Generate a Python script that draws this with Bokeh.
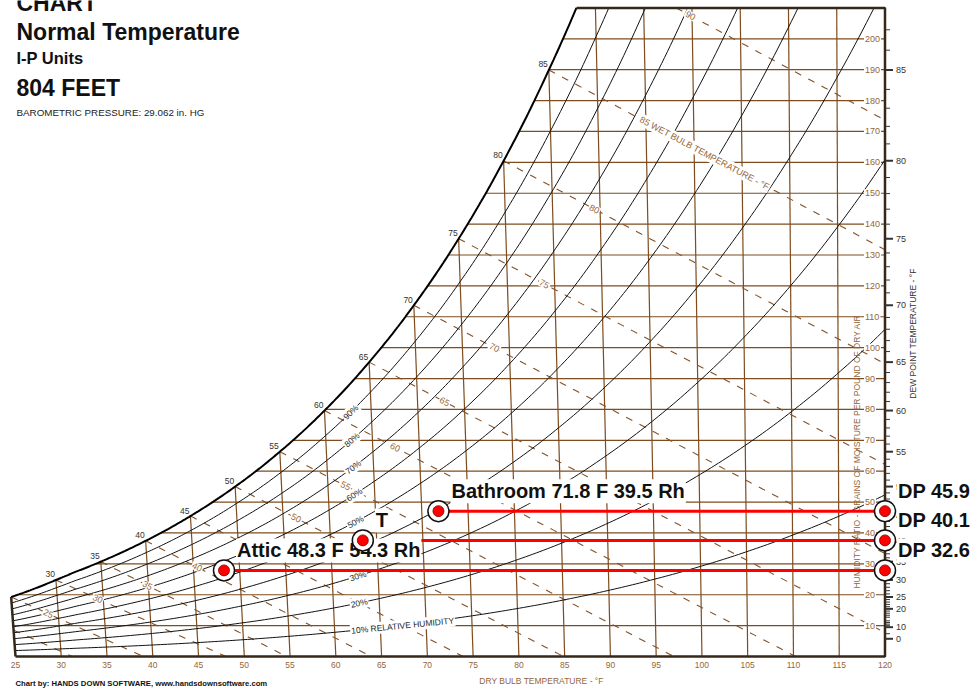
import numpy as np
from bokeh.plotting import figure
from bokeh.models import Range1d
from bokeh.core.properties import value
from bokeh.embed import file_html
from bokeh.resources import INLINE

# ---------------- data ----------------
BARO_INHG = 29.062
TITLE_LINES = ["CHART", "Normal Temperature", "I-P Units", "804 FEET", "BAROMETRIC PRESSURE: 29.062 in. HG"]
FOOTER = "Chart by: HANDS DOWN SOFTWARE, www.handsdownsoftware.com"
X_TITLE = "DRY BULB TEMPERATURE - \u00b0F"
W_TITLE = "HUMIDITY RATIO - GRAINS OF MOISTURE PER POUND OF DRY AIR"
DP_TITLE = "DEW POINT TEMPERATURE - \u00b0F"

# saturation pressure table (psia) vs temperature (F)
PS_T = [0, 5, 10, 15, 20, 25, 30, 32, 35, 40, 45, 50, 55, 60, 65, 70, 75, 80, 85, 90, 95, 100, 105, 110, 115, 120]
PS_PSIA = [0.01877, 0.02418, 0.03106, 0.03966, 0.05040, 0.06290, 0.08080, 0.08865, 0.09998, 0.12173, 0.14756,
           0.17813, 0.21413, 0.25638, 0.30578, 0.36334, 0.43016, 0.50745, 0.59659, 0.69904, 0.81643, 0.95052,
           1.1032, 1.2767, 1.4731, 1.6951]

DB_TICKS = list(range(25, 121, 5))
DB_LINES = list(range(30, 116, 5))
SAT_LABELS = list(range(30, 86, 5))
W_LINES = list(range(10, 201, 10))
WB_LINES = list(range(20, 91, 5))
WB_LABELS = list(range(25, 91, 5))
RH_LEVELS = [10, 20, 30, 40, 50, 60, 70, 80, 90]
DP_MAJOR = [0, 10, 20, 25, 30, 35, 40, 45, 50, 55, 60, 65, 70, 75, 80, 85]
DP_MINOR = [5] + [d for d in range(11, 88) if d % 5 != 0]

POINT_DB = [48.3, 63.5, 71.8]
POINT_DP = [32.6, 40.1, 45.9]
POINT_TEXT = ["Attic 48.3 F 54.3 Rh", "T", "Bathroom 71.8 F 39.5 Rh"]

# ---------------- layout / style ----------------
FONT = "Liberation Sans"
BROWN_LINE = "#7e4c1e"
BROWN_TXT = "#94663a"
DARK = "#333333"
SX = 9.1526      # px per deg F
SY = 3.0885      # px per grain
X0PX, Y0PX = 15.0, 656.0
W_TOP = 210.0
A_SLANT = 0.00026
FIG_W, FIG_H = 972, 690

def dx(px):
    return 25 + (px - X0PX) / SX

def dy(py):
    return (Y0PX - py) / SY

# ---------------- psychrometrics ----------------
P_PSIA = BARO_INHG * 0.491154
LN_PS = np.log(PS_PSIA)

def ps(t):
    return np.exp(np.interp(t, PS_T, LN_PS))

def w_gr(t, rh=1.0):
    pw = rh * ps(t)
    return 7000 * 0.622 * pw / (P_PSIA - pw)

def X(t, w):
    return t - A_SLANT * (120 - t) * w

def wb_w(t, twb):
    ws = w_gr(twb) / 7000.0
    if twb >= 32:
        r = ((1093 - 0.556 * twb) * ws - 0.240 * (t - twb)) / (1093 + 0.444 * t - twb)
    else:
        r = ((1220 - 0.04 * twb) * ws - 0.240 * (t - twb)) / (1220 + 0.444 * t - 0.48 * twb)
    return 7000 * r

TF = np.linspace(-5, 120, 25001)

def t_at_w_rh(w, rh=1.0):
    return float(np.interp(w, w_gr(TF, rh), TF))

p = figure(width=FIG_W, height=FIG_H, x_range=Range1d(dx(0), dx(FIG_W)), y_range=Range1d(dy(FIG_H), dy(0)),
           output_backend="svg", toolbar_location=None, x_axis_location=None, y_axis_location=None,
           min_border=0, outline_line_color=None, background_fill_color="white", border_fill_color="white")
p.grid.visible = False


def txt(x, y, s, size, color, align="left", baseline="middle", angle=0.0, bold=False, font=FONT,
        xo=0, yo=0, bg=None, pad=0):
    kw = {}
    if bg is not None:
        kw.update(background_fill_color=bg, padding=pad)
    p.text(x=list(x), y=list(y), text=list(s), angle=angle,
           text_font=value(font), text_font_size=size, text_color=color, text_align=align,
           text_baseline=baseline, text_font_style="bold" if bold else "normal",
           x_offset=xo, y_offset=yo, **kw)


def screen_angle(t, w_func, d=0.3):
    t1, t2 = t - d, t + d
    w1, w2 = w_func(t1), w_func(t2)
    ddx = (X(t2, w2) - X(t1, w1)) * SX
    ddy = (w2 - w1) * SY
    return float(np.arctan2(ddy, ddx))

# humidity ratio lines
xs, ys = [], []
for w in W_LINES:
    t0 = max(25.0, t_at_w_rh(w))
    xs.append([X(t0, w), X(120, w)])
    ys.append([w, w])
p.multi_line(xs, ys, line_color=BROWN_LINE, line_width=1.2)

# dry bulb lines
xs, ys = [], []
for t in DB_LINES:
    wt = min(float(w_gr(t)), W_TOP)
    xs.append([X(t, 0), X(t, wt)])
    ys.append([0, wt])
p.multi_line(xs, ys, line_color=BROWN_LINE, line_width=1.2)

# wet bulb lines
xs, ys = [], []
wb_lab_x, wb_lab_y, wb_lab_a, wb_lab_t = [], [], [], []
for twb in WB_LINES:
    tt = np.linspace(twb, 220, 12001)
    ww = wb_w(tt, twb)
    t_zero = float(np.interp(0.0, ww[::-1], tt[::-1]))
    t_top = float(np.interp(W_TOP, ww[::-1], tt[::-1]))
    t_start = max(twb, 25.0, t_top)
    t_end = min(120.0, t_zero)
    tl = np.linspace(t_start, t_end, 80)
    wl = wb_w(tl, twb)
    xs.append(list(X(tl, wl)))
    ys.append(list(wl))
    if twb in WB_LABELS:
        if twb == 90:
            tlab = float(np.interp(207.5, ww[::-1], tt[::-1]))
        else:
            tlab = twb + 6.4 + (twb - 50) * 0.1
        if twb == 85:
            tlab -= 0.55
        wlab = float(wb_w(tlab, twb))
        wb_lab_x.append(X(tlab, wlab))
        wb_lab_y.append(wlab)
        wb_lab_a.append(screen_angle(tlab, lambda t, tw=twb: wb_w(t, tw)))
        wb_lab_t.append(str(twb) if twb != 85 else "85 WET BULB TEMPERATURE - \u00b0F")
p.multi_line(xs, ys, line_color="#845228", line_width=1.1, line_dash="7 8")

# relative humidity curves
xs, ys = [], []
for rh in RH_LEVELS:
    r = rh / 100.0
    t_end = min(120.0, t_at_w_rh(W_TOP, r))
    tl = np.linspace(25, t_end, 240)
    wl = w_gr(tl, r)
    xs.append(list(X(tl, wl)))
    ys.append(list(wl))
p.multi_line(xs, ys, line_color="#111111", line_width=1)

# saturation curve and chart border
t_sat_top = t_at_w_rh(W_TOP)
tl = np.linspace(25, t_sat_top, 300)
wl = w_gr(tl)
p.line(list(X(tl, wl)), list(wl), line_color="#000000", line_width=2)
w25 = float(w_gr(25))
p.multi_line([[X(25, 0), X(25, w25)], [X(25, 0), X(120, 0), X(120, W_TOP), X(t_sat_top, W_TOP)]],
             [[0, w25], [0, 0, W_TOP, W_TOP]], line_color="#35281a", line_width=2.5)

# humidity ratio labels
txt([X(120, w) for w in W_LINES], W_LINES, [str(w) for w in W_LINES], "9px", BROWN_TXT,
    align="left", baseline="middle", xo=-21, bg="white", pad=1)

# wet bulb labels
for xx, yy, aa, tt_ in zip(wb_lab_x, wb_lab_y, wb_lab_a, wb_lab_t):
    txt([xx], [yy], [tt_], "9px", BROWN_TXT, align="left" if len(tt_) > 3 else "center",
        baseline="middle", angle=aa, bg="white", pad=1)

# RH labels
for rh in RH_LEVELS:
    r = rh / 100.0
    if rh == 10:
        tlab = 61.7
        s = "10% RELATIVE HUMIDITY"
        al = "left"
    else:
        tlab = 62.8
        s = "%d%%" % rh
        al = "center"
    wlab = float(w_gr(tlab, r))
    ang = screen_angle(tlab, lambda t, rr=r: w_gr(t, rr))
    txt([X(tlab, wlab)], [wlab], [s], "8.5px", "#262626", align=al, baseline="middle", angle=ang,
        bg="white", pad=1)

# dry bulb labels at saturation
txt([X(t, float(w_gr(t))) for t in SAT_LABELS], [float(w_gr(t)) for t in SAT_LABELS],
    [str(t) for t in SAT_LABELS], "8.5px", DARK, align="right", baseline="middle", xo=-1, yo=-5.5)

# bottom dry bulb tick labels
txt(DB_TICKS, [0] * len(DB_TICKS), [str(t) for t in DB_TICKS], "8.5px", BROWN_TXT,
    align="center", baseline="middle", yo=8)

# dew point scale on the right edge
p.ray(x=[120] * len(DP_MAJOR), y=[float(w_gr(d)) for d in DP_MAJOR], length=8, length_units="screen",
      angle=0, line_color=DARK, line_width=2)
p.ray(x=[120] * len(DP_MINOR), y=[float(w_gr(d)) for d in DP_MINOR], length=5, length_units="screen",
      angle=0, line_color=DARK, line_width=1)
txt([120] * len(DP_MAJOR), [float(w_gr(d)) for d in DP_MAJOR], [str(d) for d in DP_MAJOR], "9px", DARK,
    align="left", baseline="middle", xo=11)

# axis titles
txt([dx(856)], [dy(451)], [W_TITLE], "8.5px", BROWN_TXT, align="center", baseline="middle", angle=np.pi / 2)
txt([dx(912.5)], [dy(333)], [DP_TITLE], "8.5px", DARK, align="center", baseline="middle", angle=np.pi / 2)
txt([dx(541)], [dy(680)], [X_TITLE], "8.5px", BROWN_TXT, align="center", baseline="middle")

# state points
pw = [float(w_gr(d)) for d in POINT_DP]
px_ = [X(t, w) for t, w in zip(POINT_DB, pw)]
p.segment(x0=px_, y0=pw, x1=[120] * 3, y1=pw, line_color="#ff0000", line_width=3)
txt(px_, pw, POINT_TEXT, "20px", "#111111", align="left", baseline="middle", bold=True,
    xo=12, yo=-20, bg="white", pad=1)
txt([120] * 3, pw, ["DP %.1f" % d for d in POINT_DP], "20px", "#111111", align="left",
    baseline="middle", bold=True, xo=12, yo=-20, bg="white", pad=1)
allx = px_ + [120] * 3
ally = pw + pw
p.scatter(allx, ally, size=21, fill_color="white", line_color="#111111", line_width=1.5)
p.scatter(allx, ally, size=11, fill_color="#ff0000", line_color="#7a0000", line_width=0.8)

# titles (middle of cap height)
txt([dx(16)], [dy(2.7)], [TITLE_LINES[0]], "23px", "#111111", bold=True)
txt([dx(16)], [dy(31.3)], [TITLE_LINES[1]], "23px", "#111111", bold=True)
txt([dx(16)], [dy(57.5)], [TITLE_LINES[2]], "16.5px", "#111111", bold=True)
txt([dx(16)], [dy(87.7)], [TITLE_LINES[3]], "23px", "#111111", bold=True)
txt([dx(16)], [dy(111.6)], [TITLE_LINES[4]], "9.8px", "#222222")
txt([dx(15)], [dy(683)], [FOOTER], "7.7px", "#111111", bold=True)

open("out.html", "w").write(file_html(p, INLINE))
